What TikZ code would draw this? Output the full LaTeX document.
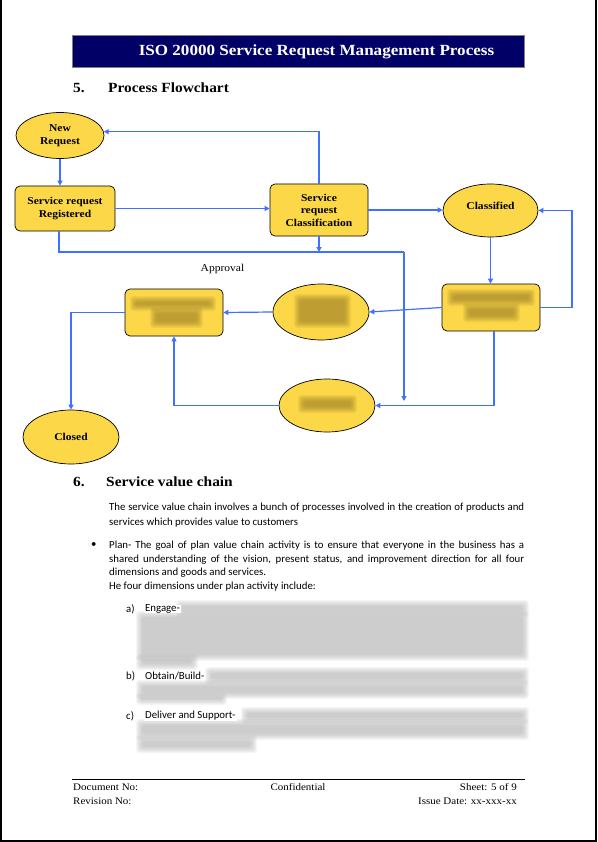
\documentclass[tikz,border=0pt]{standalone}
\usepackage{fontspec}
\setmainfont{Liberation Serif}
\newfontfamily\camb[FakeStretch=1.1]{Liberation Serif}
\newfontfamily\calib{Carlito}
\usetikzlibrary{shapes.geometric,arrows.meta,calc}
\definecolor{navy}{RGB}{0,0,102}
\definecolor{yel}{RGB}{252,216,72}
\definecolor{fblue}{RGB}{64,112,255}
\definecolor{blurbrown}{RGB}{150,120,40}
\newcommand\myblur[3]{%
  \foreach \i in {0,1,...,7}{%
    \fill[#3, opacity=0.1, rounded corners=3pt] ($#1+(\i*0.9-2,\i*0.9-2)$) rectangle ($#2-(\i*0.9-2,\i*0.9-2)$);}%
}
\tikzset{
  lbl/.style={font=\camb\bfseries\fontsize{10.5}{12.5}\selectfont, align=center},
  yell/.style={ellipse, draw=black, line width=0.7pt, fill=yel, inner sep=0pt, lbl},
  yrect/.style={rectangle, rounded corners=5pt, draw=black, line width=0.7pt, fill=yel, inner sep=0pt, lbl},
  flow/.style={draw=fblue, line width=1.2pt, -{Triangle[length=5pt,width=5pt]}},
  flowline/.style={draw=fblue, line width=1.2pt},
  body/.style={font=\calib\fontsize{10.8}{12}\selectfont, inner sep=0pt, anchor=west},
  foot/.style={font=\camb\fontsize{10}{12}\selectfont, inner sep=0pt},
  head/.style={font=\camb\bfseries\fontsize{14}{16}\selectfont, inner sep=0pt, anchor=west},
}
\begin{document}
\begin{tikzpicture}[x=1pt,y=-1pt]
\useasboundingbox (0,0) rectangle (597,842);
\fill[white] (0,0) rectangle (597,842);
% page frame
\draw[line width=2pt] (1,0) -- (1,840.5) -- (595.5,840.5) -- (595.5,0);

% header bar
\node[draw=gray, line width=0.5pt, fill=navy, minimum width=452pt, minimum height=32pt, inner sep=0pt] (bar) at (298,51) {};
\node[font=\camb\bfseries\fontsize{15.5}{18}\selectfont, text=white, inner sep=0pt] (title) at (316.5,52) {ISO 20000 Service Request Management Process};

% section 5
\node[head] (n5) at (73,88) {5.};
\node[head] (h5) at (108,88) {Process Flowchart};

% flowchart nodes
\node[yell, minimum width=88pt, minimum height=46pt] (nr) at (60,135.5) {New\\Request};
\node[yrect, minimum width=100pt, minimum height=45pt] (reg) at (65,208.5) {Service request\\Registered};
\node[yrect, minimum width=98pt, minimum height=52pt] (cls) at (319,210) {Service\\request\\Classification};
\node[yell, minimum width=95pt, minimum height=53pt] (cf) at (490.5,210.5) {};
\node[lbl, inner sep=0pt] (cft) at (490.5,206) {Classified};
\node[yrect, minimum width=98pt, minimum height=47pt] (rr) at (491,307.5) {};
\node[yell, minimum width=96pt, minimum height=56pt] (me) at (321,312) {};
\node[yell, minimum width=96pt, minimum height=53pt] (le) at (327,405.5) {};
\node[yrect, minimum width=98pt, minimum height=47pt] (ap) at (174,312.5) {};
\node[yell, minimum width=96pt, minimum height=54pt] (cl) at (71,437) {Closed};
\node[font=\camb\fontsize{10.5}{12}\selectfont, inner sep=0pt] (appr) at (222.5,269) {Approval};

% blurred labels
\myblur{(449,291)}{(533,304)}{blurbrown}
\myblur{(465,305)}{(518,320)}{blurbrown}
\myblur{(132,298)}{(214,309)}{blurbrown}
\myblur{(152,309)}{(201,326)}{blurbrown}
\myblur{(296,296)}{(349,326)}{blurbrown}
\myblur{(300,397)}{(355,411)}{blurbrown}

% connectors
\coordinate (j1) at (404,252);
\coordinate (j2) at (404,401);
\coordinate (j3) at (572,0);
\draw[flow] (nr.south) -- (nr.south |- reg.north);
\draw[flow] (reg.east) -- (reg.east -| cls.west);
\draw[flow] (cls.north) |- (nr.5);
\draw[flowline] ($(reg.south)+(-6,0)$) |- (j1);
\draw[flow] (j1) -- (j2);
\draw[flow] (cls.south) -- (cls.south |- j1);
\draw[flow] (cls.east) -- (cls.east -| cf.west);
\draw[flow] (cf.south) -- (cf.south |- rr.north);
\draw[flow] (rr.east) -- (rr.east -| j3) |- (cf.east);
\draw[flow] (rr.west) -- (me.east);
\draw[flow] (me.west) -- (ap.east);
\draw[flow] ($(rr.south)+(3,0)$) |- (le.east);
\draw[flow] (le.west) -| (ap.south);
\draw[flow] (ap.west) -| (cl.north);

% section 6
\node[head] (n6) at (73,482) {6.};
\node[head] (h6) at (106,482) {Service value chain};
\node[body] (p1a) at (109,508) {\makebox[415pt][s]{The service value chain involves a bunch of processes involved in the creation of products and}};
\node[body] (p1b) at (109,522.5) {services which provides value to customers};
\node[body] (bul) at (91,545.5) {•};
\node[body] (p2a) at (109,545.5) {\makebox[415pt][s]{Plan- The goal of plan value chain activity is to ensure that everyone in the business has a}};
\node[body] (p2b) at (109,559.5) {\makebox[415pt][s]{shared understanding of the vision, present status, and improvement direction for all four}};
\node[body] (p2c) at (109,573) {dimensions and goods and services.};
\node[body] (p2d) at (109,587) {He four dimensions under plan activity include:};

% blurred text blocks
\myblur{(178,602)}{(527,615)}{black!32}
\myblur{(138,613)}{(527,659)}{black!32}
\myblur{(138,656)}{(196,668)}{black!32}
\myblur{(207,669)}{(527,683)}{black!32}
\myblur{(138,682)}{(527,697)}{black!32}
\myblur{(138,695)}{(225,703)}{black!32}
\myblur{(243,709)}{(527,722)}{black!32}
\myblur{(138,721)}{(527,738)}{black!32}
\myblur{(138,737)}{(255,751)}{black!32}

\node[body] (la) at (126,609) {a)};
\node[body, fill=white, inner xsep=1pt] (ta) at (144,609) {Engage-};
\node[body] (lb) at (126,676) {b)};
\node[body, fill=white, inner xsep=1pt] (tb) at (144,676) {Obtain/Build-};
\node[body] (lc) at (126,716) {c)};
\node[body, fill=white, inner xsep=1pt] (tc) at (144,716) {Deliver and Support-};

% footer
\draw[line width=0.8pt] (72,779) -- (525,779);
\node[foot, anchor=west] (docno) at (73,787.5) {Document No:};
\node[foot, anchor=west] (revno) at (73,801) {Revision No:};
\node[foot] (conf) at (298,787.5) {Confidential};
\node[foot, anchor=east] (sheet) at (517,787.5) {Sheet: 5 of 9};
\node[foot, anchor=east] (idate) at (517,801) {Issue Date: xx-xxx-xx};
\end{tikzpicture}
\end{document}
